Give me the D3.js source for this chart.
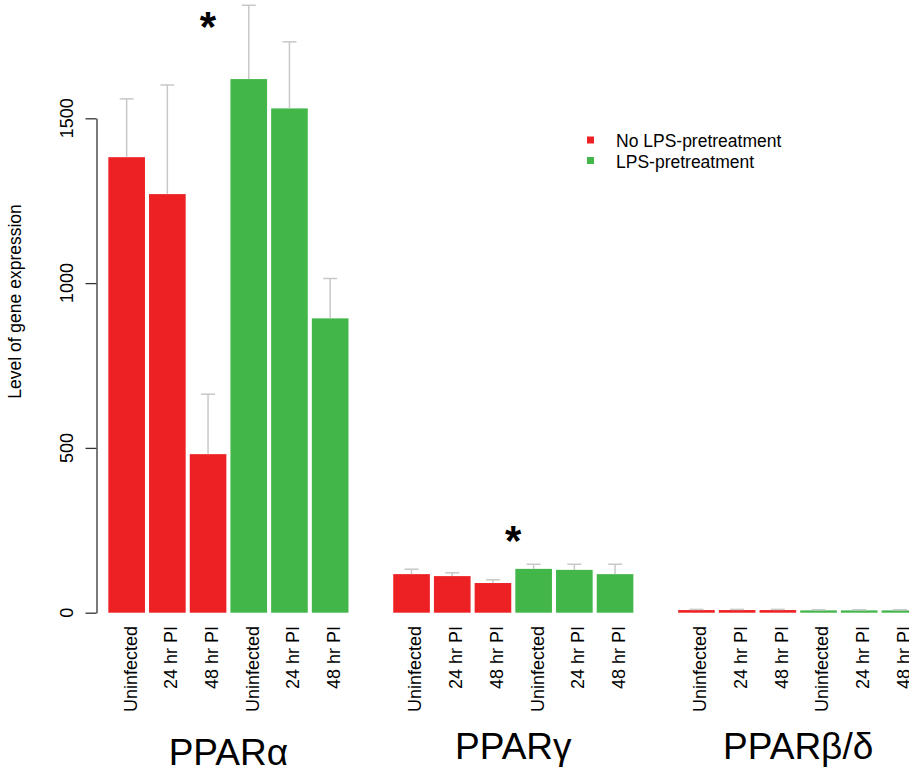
<!DOCTYPE html>
<html>
<head>
<meta charset="utf-8">
<script src="https://cdn.jsdelivr.net/npm/d3@7"></script>
<style>
  body { margin: 0; background: #fff; }
  svg { display: block; font-family: "Liberation Sans", Arial, Helvetica, sans-serif; }
</style>
</head>
<body>
<svg id="chart" width="909" height="769"></svg>
<script>
// data
const genes = ["PPARα", "PPARγ", "PPARβ/δ"];
const treatments = ["No LPS-pretreatment", "LPS-pretreatment"];
const timepoints = ["Uninfected", "24 hr PI", "48 hr PI"];

// mean expression, one row per gene, columns = timepoints
const meanNoLPS = [[1382, 1270, 481], [117, 111, 90], [8, 8, 8]];
const meanLPS = [[1619, 1530, 893], [133, 130, 117], [7, 7, 7]];
// upper error (sd) per bar
const sdNoLPS = [[177, 331, 182], [15, 10, 10], [2, 2, 2]];
const sdLPS = [[224, 202, 121], [14, 17, 30], [2, 2, 2]];

const yTicks = [0, 500, 1000, 1500];

// significance stars: gene, bar slot (0-5, can be fractional), value level
const starGene = ["PPARα", "PPARγ"];
const starSlot = [2, 2.5];
const starValue = [1805, 245];

function drawChart() {
  const svg = d3.select("#chart");
  svg.selectAll("*").remove();

  const color = d3.scaleOrdinal()
    .domain(treatments)
    .range(["#ED2024", "#43B64A"]);

  // flatten into one row per bar
  const bars = [];
  genes.forEach((g, gi) => {
    treatments.forEach((t, ti) => {
      const means = ti === 0 ? meanNoLPS : meanLPS;
      const sds = ti === 0 ? sdNoLPS : sdLPS;
      timepoints.forEach((tp, pi) => {
        bars.push({
          gene: g,
          treatment: t,
          timepoint: tp,
          slot: ti * 3 + pi,
          value: means[gi][pi],
          sd: sds[gi][pi]
        });
      });
    });
  });

  const x0 = d3.scaleBand()
    .domain(genes)
    .range([106.3, 920.3])
    .paddingInner(1 / 7)
    .paddingOuter(0);

  const x1 = d3.scaleBand()
    .domain(d3.range(6))
    .range([0, x0.bandwidth()])
    .paddingInner(0.1)
    .paddingOuter(0.05);

  const y = d3.scaleLinear()
    .domain([0, 1500])
    .range([612.7, 118.3]);

  const cx = d => x0(d.gene) + x1(d.slot) + x1.bandwidth() / 2;

  // bars
  svg.append("g")
    .selectAll("rect")
    .data(bars)
    .join("rect")
    .attr("x", d => x0(d.gene) + x1(d.slot))
    .attr("y", d => y(d.value))
    .attr("width", x1.bandwidth())
    .attr("height", d => y(0) - y(d.value))
    .attr("fill", d => color(d.treatment));

  // error bars (upper only)
  const err = svg.append("g")
    .attr("stroke", "#C8C8C8")
    .attr("stroke-width", 1.5)
    .selectAll("g")
    .data(bars)
    .join("g");

  err.append("line")
    .attr("x1", cx)
    .attr("x2", cx)
    .attr("y1", d => y(d.value))
    .attr("y2", d => y(d.value + d.sd));

  err.append("line")
    .attr("x1", d => cx(d) - 7)
    .attr("x2", d => cx(d) + 7)
    .attr("y1", d => y(d.value + d.sd))
    .attr("y2", d => y(d.value + d.sd));

  // y axis
  const axis = svg.append("g")
    .attr("transform", "translate(96.5,0)")
    .call(d3.axisLeft(y).tickValues(yTicks).tickSize(11).tickSizeOuter(0).tickFormat(""));
  axis.select(".domain").attr("stroke", "#333").attr("stroke-width", 1.3);
  axis.selectAll(".tick line").attr("stroke", "#333").attr("stroke-width", 1.3);

  svg.append("g")
    .selectAll("text")
    .data(yTicks)
    .join("text")
    .attr("transform", d => `translate(73,${y(d)}) rotate(-90)`)
    .attr("text-anchor", "middle")
    .attr("font-size", 18)
    .attr("fill", "#000")
    .text(d => d);

  svg.append("text")
    .attr("transform", `translate(21,301.5) rotate(-90)`)
    .attr("text-anchor", "middle")
    .attr("font-size", 17.5)
    .attr("fill", "#000")
    .text("Level of gene expression");

  // category labels under each bar
  svg.append("g")
    .selectAll("text")
    .data(bars)
    .join("text")
    .attr("transform", d => `translate(${cx(d)},626) rotate(-90)`)
    .attr("dy", "0.55em")
    .attr("text-anchor", "end")
    .attr("font-size", 18)
    .attr("fill", "#000")
    .text(d => d.timepoint);

  // gene titles
  svg.append("g")
    .selectAll("text")
    .data(genes)
    .join("text")
    .attr("x", d => x0(d) + x0.bandwidth() / 2)
    .attr("y", d => d === "PPARα" ? 765 : 759)
    .attr("text-anchor", "middle")
    .attr("font-size", 37)
    .attr("fill", "#000")
    .text(d => d);

  // stars
  svg.append("g")
    .selectAll("text")
    .data(starGene.map((g, i) => ({ gene: g, slot: starSlot[i], value: starValue[i] })))
    .join("text")
    .attr("x", d => x0(d.gene) + x1.step() * (d.slot + 0.5))
    .attr("y", d => y(d.value))
    .attr("dy", "0.56em")
    .attr("text-anchor", "middle")
    .attr("font-size", 42)
    .attr("font-weight", "bold")
    .attr("fill", "#000")
    .text("*");

  // legend
  const legend = svg.append("g")
    .selectAll("g")
    .data(treatments)
    .join("g")
    .attr("transform", (d, i) => `translate(587,${140 + i * 20.5})`);

  legend.append("rect")
    .attr("x", 0)
    .attr("y", -3.5)
    .attr("width", 7)
    .attr("height", 7)
    .attr("fill", color);

  legend.append("text")
    .attr("x", 29)
    .attr("y", 7)
    .attr("font-size", 17.5)
    .attr("fill", "#000")
    .text(d => d);
}

drawChart();
</script>
</body>
</html>
